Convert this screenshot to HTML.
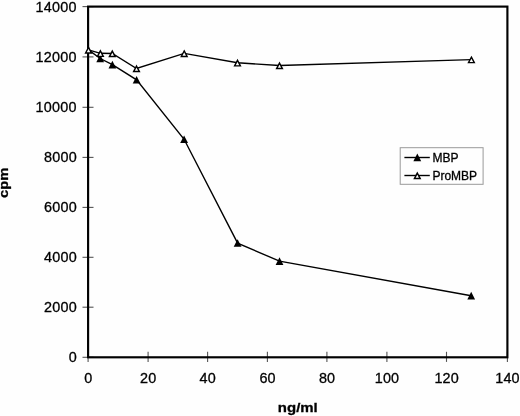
<!DOCTYPE html>
<html><head><meta charset="utf-8"><title>chart</title>
<style>html,body{margin:0;padding:0;background:#fff}body{width:520px;height:416px;overflow:hidden}svg{display:block;will-change:transform;opacity:0.999}text{font-family:"Liberation Sans",Arial,Helvetica,sans-serif;fill:#000;stroke:#000;stroke-width:0.3px}</style></head><body>
<svg width="520" height="416" viewBox="0 0 520 416">
<rect width="520" height="416" fill="#fefefe"/>
<line x1="82.5" y1="357.3" x2="93.5" y2="357.3" stroke="#555" stroke-width="1.1"/>
<line x1="88.1" y1="351.8" x2="88.1" y2="361.9" stroke="#555" stroke-width="1.1"/>
<line x1="82.5" y1="307.2" x2="93.5" y2="307.2" stroke="#555" stroke-width="1.1"/>
<line x1="148.1" y1="351.8" x2="148.1" y2="361.9" stroke="#555" stroke-width="1.1"/>
<line x1="82.5" y1="257.3" x2="93.5" y2="257.3" stroke="#555" stroke-width="1.1"/>
<line x1="207.6" y1="351.8" x2="207.6" y2="361.9" stroke="#555" stroke-width="1.1"/>
<line x1="82.5" y1="207.4" x2="93.5" y2="207.4" stroke="#555" stroke-width="1.1"/>
<line x1="267.4" y1="351.8" x2="267.4" y2="361.9" stroke="#555" stroke-width="1.1"/>
<line x1="82.5" y1="157.4" x2="93.5" y2="157.4" stroke="#555" stroke-width="1.1"/>
<line x1="326.9" y1="351.8" x2="326.9" y2="361.9" stroke="#555" stroke-width="1.1"/>
<line x1="82.5" y1="107.3" x2="93.5" y2="107.3" stroke="#555" stroke-width="1.1"/>
<line x1="386.9" y1="351.8" x2="386.9" y2="361.9" stroke="#555" stroke-width="1.1"/>
<line x1="82.5" y1="56.9" x2="93.5" y2="56.9" stroke="#555" stroke-width="1.1"/>
<line x1="446.5" y1="351.8" x2="446.5" y2="361.9" stroke="#555" stroke-width="1.1"/>
<line x1="82.5" y1="6.6" x2="93.5" y2="6.6" stroke="#555" stroke-width="1.1"/>
<line x1="507.4" y1="351.8" x2="507.4" y2="361.9" stroke="#555" stroke-width="1.1"/>
<rect x="88.1" y="6.6" width="419.3" height="350.7" fill="none" stroke="#000" stroke-width="2.15"/>
<text x="76.9" y="362.3" font-size="14.4" letter-spacing="0.25" text-anchor="end">0</text>
<text x="88.2" y="383.4" font-size="14.4" letter-spacing="0.1" text-anchor="middle">0</text>
<text x="76.9" y="312.2" font-size="14.4" letter-spacing="0.25" text-anchor="end">2000</text>
<text x="148.2" y="383.4" font-size="14.4" letter-spacing="0.1" text-anchor="middle">20</text>
<text x="76.9" y="262.3" font-size="14.4" letter-spacing="0.25" text-anchor="end">4000</text>
<text x="207.7" y="383.4" font-size="14.4" letter-spacing="0.1" text-anchor="middle">40</text>
<text x="76.9" y="212.4" font-size="14.4" letter-spacing="0.25" text-anchor="end">6000</text>
<text x="267.5" y="383.4" font-size="14.4" letter-spacing="0.1" text-anchor="middle">60</text>
<text x="76.9" y="162.4" font-size="14.4" letter-spacing="0.25" text-anchor="end">8000</text>
<text x="327.0" y="383.4" font-size="14.4" letter-spacing="0.1" text-anchor="middle">80</text>
<text x="76.9" y="112.3" font-size="14.4" letter-spacing="0.25" text-anchor="end">10000</text>
<text x="387.0" y="383.4" font-size="14.4" letter-spacing="0.1" text-anchor="middle">100</text>
<text x="76.9" y="61.9" font-size="14.4" letter-spacing="0.25" text-anchor="end">12000</text>
<text x="446.6" y="383.4" font-size="14.4" letter-spacing="0.1" text-anchor="middle">120</text>
<text x="76.9" y="11.6" font-size="14.4" letter-spacing="0.25" text-anchor="end">14000</text>
<text x="507.5" y="383.4" font-size="14.4" letter-spacing="0.1" text-anchor="middle">140</text>
<polyline points="88.5,49.9 100.2,58.5 112.4,64.7 136.6,79.9 184.1,139.3 237.6,243.1 279.5,261.2 471.2,295.7" fill="none" stroke="#000" stroke-width="1.4"/>
<polyline points="88.5,49.9 100.4,53.3 112.3,53.5 136.5,68.5 184.2,53.4 237.5,62.8 279.5,65.5 471.4,59.6" fill="none" stroke="#000" stroke-width="1.4"/>
<polygon points="100.20,54.60 104.10,62.20 96.30,62.20" fill="#000"/>
<polygon points="112.40,60.80 116.30,68.40 108.50,68.40" fill="#000"/>
<polygon points="136.60,76.00 140.50,83.60 132.70,83.60" fill="#000"/>
<polygon points="184.10,135.40 188.00,143.00 180.20,143.00" fill="#000"/>
<polygon points="237.60,239.20 241.50,246.80 233.70,246.80" fill="#000"/>
<polygon points="279.50,257.30 283.40,264.90 275.60,264.90" fill="#000"/>
<polygon points="471.20,291.80 475.10,299.40 467.30,299.40" fill="#000"/>
<polygon points="88.50,47.45 91.40,52.95 85.60,52.95" fill="#fff" stroke="#000" stroke-width="1.4" stroke-linejoin="miter"/>
<polygon points="100.40,50.85 103.30,56.35 97.50,56.35" fill="#fff" stroke="#000" stroke-width="1.4" stroke-linejoin="miter"/>
<polygon points="112.30,51.05 115.20,56.55 109.40,56.55" fill="#fff" stroke="#000" stroke-width="1.4" stroke-linejoin="miter"/>
<polygon points="136.50,66.05 139.40,71.55 133.60,71.55" fill="#fff" stroke="#000" stroke-width="1.4" stroke-linejoin="miter"/>
<polygon points="184.20,50.95 187.10,56.45 181.30,56.45" fill="#fff" stroke="#000" stroke-width="1.4" stroke-linejoin="miter"/>
<polygon points="237.50,60.35 240.40,65.85 234.60,65.85" fill="#fff" stroke="#000" stroke-width="1.4" stroke-linejoin="miter"/>
<polygon points="279.50,63.05 282.40,68.55 276.60,68.55" fill="#fff" stroke="#000" stroke-width="1.4" stroke-linejoin="miter"/>
<polygon points="471.40,57.15 474.30,62.65 468.50,62.65" fill="#fff" stroke="#000" stroke-width="1.4" stroke-linejoin="miter"/>
<rect x="400.2" y="147.7" width="82.9" height="36.6" fill="#fefefe" stroke="#999" stroke-width="1"/>
<line x1="404.4" y1="157.5" x2="429.8" y2="157.5" stroke="#000" stroke-width="1.4"/>
<polygon points="417.30,153.60 421.20,161.20 413.40,161.20" fill="#000"/>
<text x="432.4" y="161.6" font-size="12">MBP</text>
<line x1="404.4" y1="175.5" x2="429.8" y2="175.5" stroke="#000" stroke-width="1.4"/>
<polygon points="417.30,173.05 420.20,178.55 414.40,178.55" fill="#fff" stroke="#000" stroke-width="1.4" stroke-linejoin="miter"/>
<text x="432.4" y="179.6" font-size="12">ProMBP</text>
<text transform="translate(297.8,411.8) scale(1.07,0.93)" font-size="14" font-weight="bold" text-anchor="middle">ng/ml</text>
<text transform="translate(8.1,182.8) rotate(-90) scale(1.05,0.92)" font-size="14" font-weight="bold" text-anchor="middle">cpm</text>
</svg></body></html>
